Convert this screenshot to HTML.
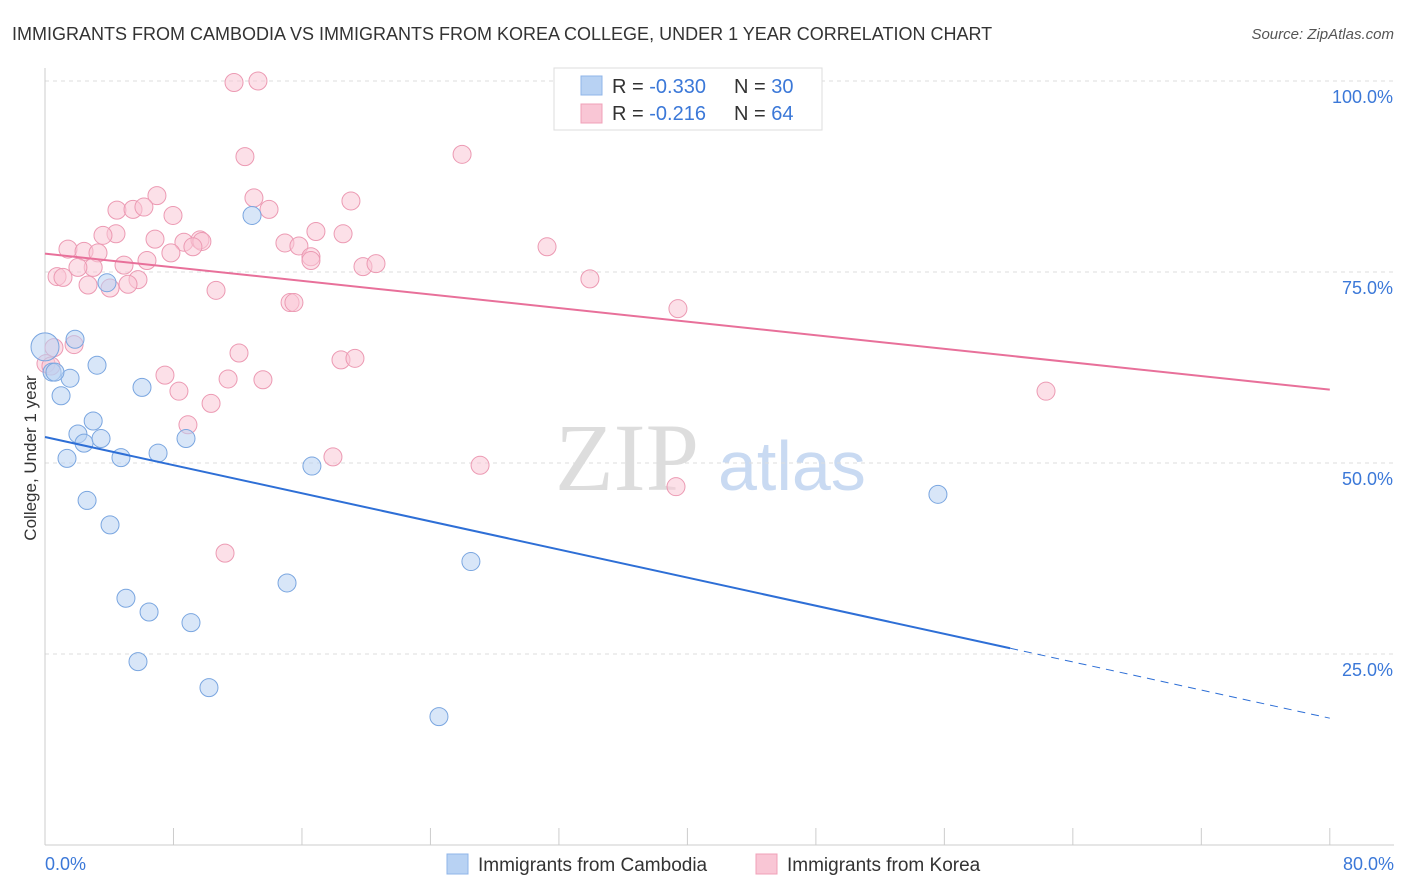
<!DOCTYPE html>
<html><head><meta charset="utf-8"><style>
body{margin:0;background:#fff;font-family:"Liberation Sans",sans-serif;}
svg{display:block}
</style></head><body>
<svg id="chart" width="1406" height="892">
<text x="12" y="40" font-size="18" fill="#333">IMMIGRANTS FROM CAMBODIA VS IMMIGRANTS FROM KOREA COLLEGE, UNDER 1 YEAR CORRELATION CHART</text>
<text x="1394" y="39" font-size="15" fill="#555" font-style="italic" text-anchor="end">Source: ZipAtlas.com</text>
<text x="36" y="458" font-size="17" fill="#333" transform="rotate(-90 36 458)" text-anchor="middle">College, Under 1 year</text>
<text x="555" y="490" font-size="96" fill="#ddd" font-family="Liberation Serif,serif">ZIP</text>
<text x="718" y="490" font-size="70" fill="#c9daf2">atlas</text>
<g id="grid"></g><g id="axes"></g><g id="pts"></g><g id="lines"></g>
<g>
<rect x="554" y="68" width="268" height="62" fill="#fff" stroke="#ddd"/>
<rect x="581" y="76" width="21" height="19" fill="#b8d2f3" stroke="#8fb5e8"/>
<rect x="581" y="104" width="21" height="19" fill="#f9c6d5" stroke="#f0a0b8"/>
<text x="612" y="93" font-size="20" fill="#333">R = <tspan fill="#3b78d8">-0.330</tspan></text>
<text x="734" y="93" font-size="20" fill="#333">N = <tspan fill="#3b78d8">30</tspan></text>
<text x="612" y="120" font-size="20" fill="#333">R = <tspan fill="#3b78d8"> -0.216</tspan></text>
<text x="734" y="120" font-size="20" fill="#333">N = <tspan fill="#3b78d8">64</tspan></text>
</g>
<g>
<rect x="447" y="854" width="21" height="20" fill="#b8d2f3" stroke="#8fb5e8"/>
<text x="478" y="871" font-size="19" fill="#333">Immigrants from Cambodia</text>
<rect x="756" y="854" width="21" height="20" fill="#f9c6d5" stroke="#f0a0b8"/>
<text x="787" y="871" font-size="19" fill="#333">Immigrants from Korea</text>
</g>
</svg>
<script>
const yTicks=[25,50,75,100];
const yTickLabels=["25.0%","50.0%","75.0%","100.0%"];
const xTickLabels=["0.0%","80.0%"];
const camX=[0,1.87,0.44,1.56,3.24,1,6.04,3,2.05,2.43,3.49,8.78,1.37,4.73,7.04,16.62,2.62,4.05,12.89,3.86,5.04,6.48,9.09,15.07,26.52,5.79,10.21,24.53,55.6,0.62];
const camY=[65.2,66.2,61.9,61.1,62.8,58.8,59.9,55.5,53.8,52.6,53.2,53.2,50.6,50.7,51.3,49.6,45.1,41.9,82.4,73.6,32.3,30.5,29.1,34.3,37.1,24.0,20.6,16.8,45.9,61.9];
const korX=[11.77,13.26,25.97,12.45,6.97,4.48,5.48,6.16,7.97,13.01,13.95,19.05,16.87,18.56,14.94,15.81,16.56,16.56,31.26,6.85,8.65,9.65,9.77,9.21,7.84,1.43,2.43,3.3,4.42,3.61,6.35,3,4.92,2.05,5.79,5.17,0.75,1.12,2.68,4.05,19.8,20.61,33.93,10.65,15.26,15.5,39.41,0.56,1.81,12.08,18.43,19.3,7.47,11.4,8.34,0.06,13.57,0.37,10.34,62.33,8.9,17.93,27.09,39.29,11.21];
const korY=[99.8,100,90.4,90.1,85,83.1,83.2,83.5,82.4,84.7,83.2,84.3,80.3,80,78.8,78.4,77,76.5,78.3,79.3,78.9,79.2,79,78.3,77.5,78,77.7,77.5,80,79.8,76.5,75.6,75.9,75.6,74,73.4,74.4,74.3,73.3,72.9,75.7,76.1,74.1,72.6,71,71,70.2,65.1,65.5,64.4,63.5,63.7,61.5,61,59.4,63,60.9,62.7,57.8,59.4,55,50.8,49.7,46.9,38.2];
const lineStart=[0,0];const lineEnd=[80,80];const lineStartY=[53.4,77.4];const lineEndY=[16.6,59.6];const solidEnd=[60.1,80];
const X=v=>45+v*16.06, Y=v=>845-v*7.64;
const NS="http://www.w3.org/2000/svg";
function mk(p,t,a){const e=document.createElementNS(NS,t);for(const k in a)e.setAttribute(k,a[k]);document.getElementById(p).appendChild(e);return e;}
yTicks.forEach((t,i)=>{
 const g=mk('grid','line',{x1:45,x2:1394,y1:Y(t),y2:Y(t),stroke:'#ddd','stroke-dasharray':'4,4'});
 
 
 const l=mk('grid','text',{x:1393,y:Y(t)+22,'font-size':18,fill:'#3b78d8','text-anchor':'end'});
 l.textContent=yTickLabels[i];
 
 
});
const ax=mk('axes','line',{x1:45,x2:1394,y1:845,y2:845,stroke:'#ccc'});


const ay=mk('axes','line',{x1:45,x2:45,y1:68,y2:845,stroke:'#ccc'});


for(let i=0;i<=10;i++){const t=mk('axes','line',{x1:X(i*8),x2:X(i*8),y1:828,y2:845,stroke:'#ccc'});
 
 }
[[0,'start',45],[1,'end',1394]].forEach(([i,a,x])=>{const t=mk('axes','text',{x:x,y:870,'font-size':18,fill:'#3b78d8','text-anchor':a});t.textContent=xTickLabels[i];
 
 });
function pts(xs,ys,f,s,name){xs.forEach((x,i)=>{const r=(i===0&&name==='cambodia')?14:9;const c=mk('pts','circle',{cx:X(x),cy:Y(ys[i]),r:r,fill:f,'fill-opacity':0.55,stroke:s,'stroke-width':1});
 
 });}
pts(korX,korY,'#f9c6d5','#ec9ab3','korea');
pts(camX,camY,'#b8d2f3','#7aa6e0','cambodia');
const cols=['#2e6fd6','#e8709a'];
[0,1].forEach(i=>{
 const slope=(lineEndY[i]-lineStartY[i])/(lineEnd[i]-lineStart[i]);
 const ye=lineStartY[i]+slope*(solidEnd[i]-lineStart[i]);
 const l=mk('lines','line',{x1:X(lineStart[i]),y1:Y(lineStartY[i]),x2:X(solidEnd[i]),y2:Y(ye),stroke:cols[i],'stroke-width':2});
 
 
 if(solidEnd[i]<lineEnd[i]){const d=mk('lines','line',{x1:X(solidEnd[i]),y1:Y(ye),x2:X(lineEnd[i]),y2:Y(lineEndY[i]),stroke:cols[i],'stroke-width':1,'stroke-dasharray':'8,6'});
 
 }
});
</script>
</body></html>
